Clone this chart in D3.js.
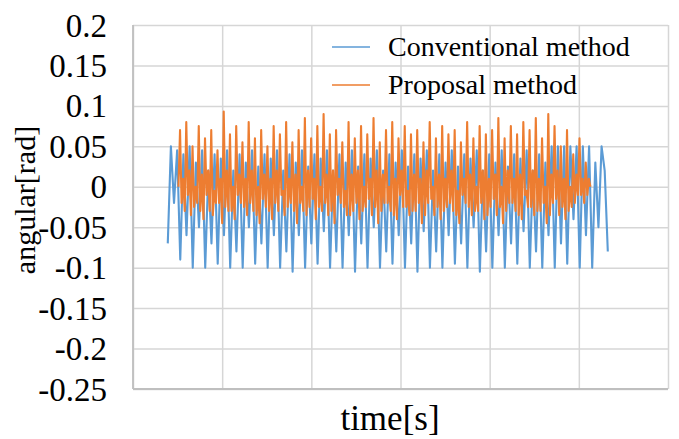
<!DOCTYPE html>
<html lang="en">
    <head>
        <meta charset="utf-8">
        <title>angular vs time</title>
        <script src="https://d3js.org/d3.v7.min.js"></script>
    </head>
    <style>
        body { margin: 0; background: #fff; }
        text { font-family: "Liberation Serif", "Times New Roman", serif; fill: #000; }
        .grid line { stroke: #d6d6d6; stroke-width: 1.5; }
        .grid .domain { display: none; }
        .series { fill: none; stroke-width: 2.1; stroke-linejoin: round; }
    </style>
    <body>
        <script>
            // y ticks and x divisions (x axis carries no labels)
            var yTicks = [-0.25, -0.2, -0.15, -0.1, -0.05, 0, 0.05, 0.1, 0.15, 0.2];
            var xGrid = [0, 10, 20, 30, 40, 50, 60];

            // sampling of each series (time of first sample, step in s)
            var convStart = 3.9, convStep = 0.35;
            var propStart = 5.1, propStep = 0.175;

            // Conventional method, angular [rad]
            var conventional = [
                -0.07, 0.05, -0.02, 0.045, -0.09, 0.04, -0.06, 0.05, -0.1, 0.03,
                -0.05, 0.045, -0.1, 0.02, -0.07, 0.04, -0.095, 0.035, -0.06, 0.045,
                -0.1, 0.02, -0.08, 0.04, -0.1, 0.03, -0.05, 0.045, -0.095, 0.025,
                -0.07, 0.04, -0.1, 0.035, -0.06, 0.045, -0.1, 0.02, -0.08, 0.04,
                -0.105, 0.03, -0.06, 0.045, -0.1, 0.025, -0.07, 0.04, -0.095, 0.035,
                -0.055, 0.045, -0.1, 0.02, -0.08, 0.04, -0.1, 0.03, -0.06, 0.045,
                -0.105, 0.025, -0.07, 0.04, -0.1, 0.035, -0.05, 0.045, -0.1, 0.02,
                -0.08, 0.04, -0.095, 0.03, -0.06, 0.045, -0.1, 0.025, -0.07, 0.04,
                -0.105, 0.035, -0.055, 0.045, -0.1, 0.02, -0.08, 0.04, -0.1, 0.03,
                -0.06, 0.045, -0.095, 0.025, -0.07, 0.04, -0.1, 0.035, -0.05, 0.045,
                -0.105, 0.02, -0.08, 0.04, -0.1, 0.03, -0.06, 0.045, -0.1, 0.025,
                -0.07, 0.04, -0.095, 0.035, -0.055, 0.045, -0.1, 0.02, -0.08, 0.04,
                -0.1, 0.03, -0.06, 0.05, -0.1, 0.05, -0.07, 0.05, -0.095, 0.05,
                -0.04, 0.05, -0.1, 0.05, -0.06, 0.05, -0.1, 0.03, -0.05, 0.05,
                0.02, -0.08
            ];

            // Proposal method, angular [rad]
            var proposal = [
                0.0,
                0.07, -0.02, 0.01, -0.03,   0.08, -0.01, 0.02, -0.035,
                0.05, -0.025, 0.0, -0.02,   0.075, -0.03, 0.015, -0.04,
                0.06, -0.01, 0.02, -0.03,   0.07, -0.035, -0.005, -0.02,
                0.045, -0.02, 0.01, -0.045,   0.093, -0.025, 0.02, -0.03,
                0.065, -0.03, 0.0, -0.04,   0.075, -0.01, 0.015, -0.02,
                0.055, -0.025, 0.01, -0.035,   0.08, -0.02, 0.02, -0.03,
                0.06, -0.035, 0.0, -0.045,   0.07, -0.015, 0.015, -0.025,
                0.05, -0.03, 0.01, -0.04,   0.075, -0.02, 0.02, -0.03,
                0.065, -0.01, -0.005, -0.035,   0.08, -0.025, 0.01, -0.02,
                0.055, -0.03, 0.015, -0.045,   0.07, -0.02, 0.0, -0.03,
                0.085, -0.035, 0.02, -0.025,   0.06, -0.015, 0.01, -0.04,
                0.075, -0.025, 0.0, -0.03,   0.09, -0.02, 0.015, -0.035,
                0.065, -0.03, 0.02, -0.045,   0.07, -0.01, 0.01, -0.02,
                0.055, -0.025, -0.005, -0.035,   0.08, -0.035, 0.015, -0.03,
                0.06, -0.02, 0.02, -0.04,   0.075, -0.03, 0.0, -0.025,
                0.065, -0.015, 0.01, -0.035,   0.085, -0.025, 0.02, -0.045,
                0.055, -0.03, 0.015, -0.02,   0.07, -0.02, 0.0, -0.03,
                0.08, -0.035, 0.01, -0.04,   0.06, -0.01, 0.02, -0.025,
                0.075, -0.025, -0.005, -0.035,   0.065, -0.03, 0.015, -0.03,
                0.07, -0.02, 0.01, -0.045,   0.055, -0.035, 0.02, -0.02,
                0.08, -0.015, 0.0, -0.035,   0.06, -0.025, 0.015, -0.04,
                0.075, -0.03, 0.01, -0.025,   0.065, -0.02, 0.02, -0.03,
                0.07, -0.035, -0.005, -0.045,   0.055, -0.01, 0.01, -0.02,
                0.08, -0.025, 0.015, -0.035,   0.06, -0.03, 0.0, -0.03,
                0.075, -0.02, 0.02, -0.04,   0.065, -0.035, 0.01, -0.025,
                0.07, -0.015, 0.015, -0.035,   0.085, -0.025, 0.0, -0.045,
                0.06, -0.03, 0.02, -0.02,   0.075, -0.02, 0.01, -0.03,
                0.065, -0.035, 0.015, -0.04,   0.08, -0.01, -0.005, -0.025,
                0.07, -0.025, 0.02, -0.035,   0.085, -0.03, 0.01, -0.03,
                0.06, -0.02, 0.0, -0.045,   0.09, -0.035, 0.015, -0.02,
                0.075, -0.015, 0.02, -0.035,   0.05, -0.025, 0.01, -0.04,
                0.07, -0.03, 0.0, -0.025,   0.04, -0.02, 0.015, -0.01,
                0.06, -0.01, 0.01, -0.02,   0.03, -0.01, 0.01, 0.0
            ];

            var seriesNames = ["Conventional method", "Proposal method"];
            var seriesColors = ["#5b9bd5", "#ed7d31"];

            var width = 679, height = 439;
            var margin = {top: 25, right: 11, bottom: 50, left: 133};
            var innerW = width - margin.left - margin.right;
            var innerH = height - margin.top - margin.bottom;

            var svg = d3.select("body").append("svg")
                .attr("width", width)
                .attr("height", height);
            var g = svg.append("g")
                .attr("transform", "translate(" + margin.left + "," + margin.top + ")");

            var x = d3.scaleLinear().domain([0, 60]).range([0, innerW]);
            var y = d3.scaleLinear().domain([-0.25, 0.2]).range([innerH, 0]);

            // grid
            g.append("g")
                .attr("class", "grid")
                .call(d3.axisLeft(y).tickValues(yTicks).tickSize(-innerW).tickFormat(""));
            g.append("g")
                .attr("class", "grid")
                .attr("transform", "translate(0," + innerH + ")")
                .call(d3.axisBottom(x).tickValues(xGrid).tickSize(-innerH).tickFormat(""));

            // left and bottom borders a little darker
            g.append("line")
                .attr("x1", 0).attr("x2", 0).attr("y1", 0).attr("y2", innerH)
                .attr("stroke", "#bfbfbf").attr("stroke-width", 1.8);
            g.append("line")
                .attr("x1", 0).attr("x2", innerW).attr("y1", innerH).attr("y2", innerH)
                .attr("stroke", "#bfbfbf").attr("stroke-width", 1.8);

            // y tick labels (plain hyphen for negatives, as in the source)
            g.selectAll(".ylab")
                .data(yTicks)
              .enter().append("text")
                .attr("class", "ylab")
                .attr("x", -26)
                .attr("y", function(d) { return y(d); })
                .attr("dy", "0.35em")
                .attr("text-anchor", "end")
                .style("font-family", "'Liberation Serif', serif")
                .style("font-size", "33px")
                .text(function(d) { return String(d); });

            var convLine = d3.line()
                .x(function(d, i) { return x(convStart + i * convStep); })
                .y(function(d) { return y(d); });
            var propLine = d3.line()
                .x(function(d, i) { return x(propStart + i * propStep); })
                .y(function(d) { return y(d); });

            g.append("path")
                .datum(conventional)
                .attr("class", "series")
                .attr("stroke", seriesColors[0])
                .attr("d", convLine);
            g.append("path")
                .datum(proposal)
                .attr("class", "series")
                .attr("stroke", seriesColors[1])
                .attr("d", propLine);

            // legend
            var legend = svg.append("g").attr("transform", "translate(332,47)");
            seriesNames.forEach(function(name, i) {
                var row = legend.append("g").attr("transform", "translate(0," + i * 38 + ")");
                row.append("line")
                    .attr("x1", 0).attr("x2", 38)
                    .attr("stroke", seriesColors[i]).attr("stroke-width", 1.6);
                row.append("text")
                    .attr("x", 56)
                    .attr("dy", "0.33em")
                    .style("font-size", "28px")
                    .text(name);
            });

            // axis titles
            svg.append("text")
                .attr("transform", "translate(35,200) rotate(-90)")
                .attr("text-anchor", "middle")
                .style("font-size", "30px")
                .text("angular[rad]");
            svg.append("text")
                .attr("x", 390)
                .attr("y", 430)
                .attr("text-anchor", "middle")
                .style("font-size", "35px")
                .text("time[s]");
        </script>
    </body>
</html>
